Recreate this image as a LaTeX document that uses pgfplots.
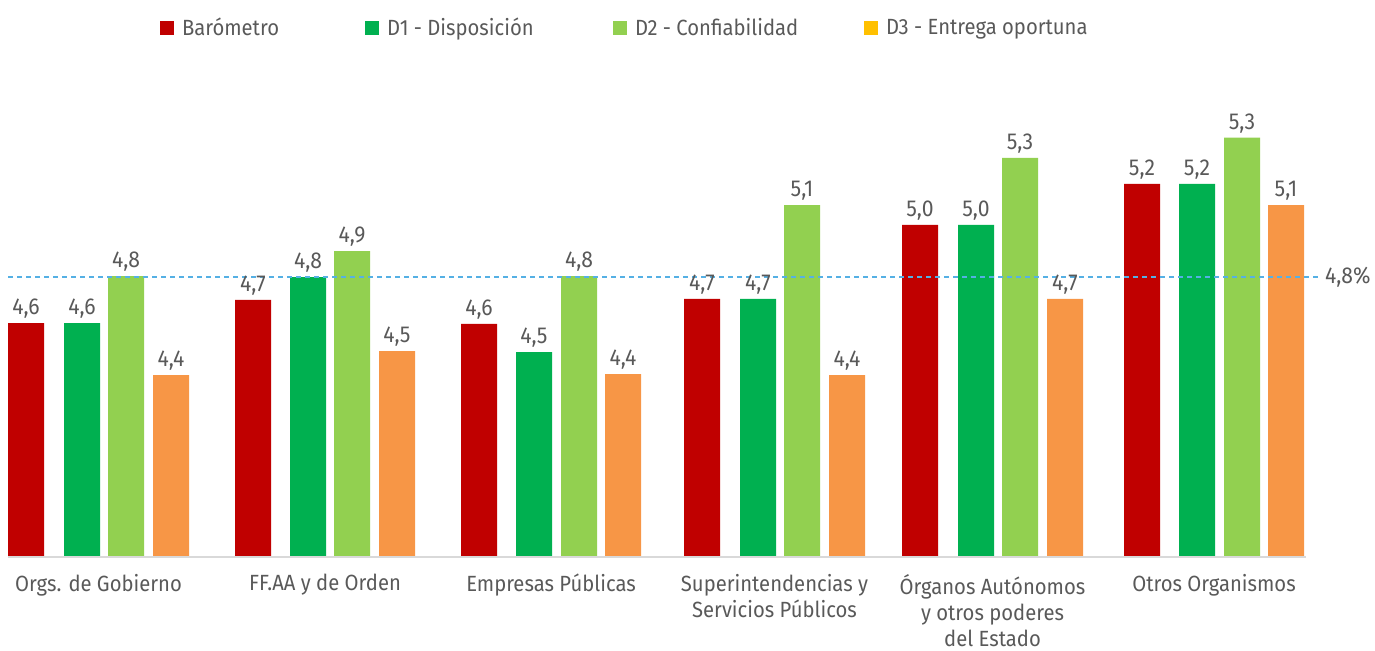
\documentclass[border=0pt]{standalone}
\usepackage{fontspec}
\setmainfont{Fira Sans}[FakeStretch=0.92]
\usepackage{pgfplots}
\pgfplotsset{compat=1.18}
\usepackage{pgfplotstable}
\definecolor{cred}{HTML}{C00000}
\definecolor{cgreen}{HTML}{00B050}
\definecolor{clgreen}{HTML}{92D050}
\definecolor{corange}{HTML}{F79646}
\definecolor{cyellow}{HTML}{FFC000}
\definecolor{txtgray}{HTML}{595959}
\definecolor{axgray}{HTML}{D9D9D9}
\definecolor{cblue}{HTML}{55B0E4}

\pgfplotstableread{
x v
26 4.619
253 4.710
479 4.616
702 4.714
920 5.005
1142 5.166
}\barom
\pgfplotstableread{
x v
82 4.619
308 4.800
534 4.505
758 4.714
976 5.005
1197 5.166
}\dA
\pgfplotstableread{
x v
126 4.804
352 4.902
579 4.804
802 5.083
1020 5.268
1242 5.348
}\dB
\pgfplotstableread{
x v
171 4.415
397 4.509
623 4.419
847 4.415
1065 4.714
1286 5.083
}\dC
\pgfplotstableread{
x v
8 4.8
1318 4.8
}\avgline

\pgfplotsset{
  mybar/.style={ybar, bar width=36, bar shift=0pt, draw=none, fill=#1, forget plot,
    point meta=explicit,
    nodes near coords={\pgfmathprintnumber[fixed,fixed zerofill,precision=1,use comma,assume math mode=true]{\pgfplotspointmeta}},
    every node near coord/.append style={inner sep=2pt, text=txtgray, font=\fontsize{11.5}{13}\selectfont}},
}

\begin{document}
\begin{tikzpicture}
\begin{axis}[
  at={(0pt,46.5pt)}, anchor=south west,
  scale only axis, width=687.5pt, height=229.05pt,
  xmin=0, xmax=1375, ymin=0, ymax=1.8,
  clip=false,
  axis line style={draw=none},
  major tick length=0pt,
  ytick=\empty,
  xtick={98.5,325,551,774.5,992.5,1214},
  xticklabels={Orgs. de Gobierno, FF.AA y de Orden, Empresas Públicas, {Superintendencias y\\Servicios Públicos}, {Órganos Autónomos\\y otros poderes\\del Estado}, Otros Organismos},
  xticklabel style={align=center, text=txtgray, font=\fontsize{11}{13}\selectfont, yshift=-5pt},
  legend columns=4,
  legend image code/.code={\fill[#1] (0pt,-3.5pt) rectangle (7pt,3.5pt);},
  legend style={at={(axis description cs:0.11636,1.1548)}, anchor=west, draw=none, fill=none,
    inner sep=0pt, outer sep=0pt, column sep=0pt,
    /tikz/every odd column/.append style={column sep=4pt},
    nodes={inner sep=0pt, text=txtgray, font=\fontsize{11}{13}\selectfont}},
]
\addlegendimage{fill=cred, draw=none}
\addlegendentry{\makebox[91.5pt][l]{Barómetro}}
\addlegendimage{fill=cgreen, draw=none}
\addlegendentry{\makebox[113pt][l]{D1 - Disposición}}
\addlegendimage{fill=clgreen, draw=none}
\addlegendentry{\makebox[114.5pt][l]{D2 - Confiabilidad}}
\addlegendimage{fill=cyellow, draw=none}
\addlegendentry{D3 - Entrega oportuna}

\addplot[mybar=cred] table[x=x, y expr=\thisrow{v}-3.7, meta=v] {\barom};
\addplot[mybar=cgreen] table[x=x, y expr=\thisrow{v}-3.7, meta=v] {\dA};
\addplot[mybar=clgreen] table[x=x, y expr=\thisrow{v}-3.7, meta=v] {\dB};
\addplot[mybar=corange] table[x=x, y expr=\thisrow{v}-3.7, meta=v] {\dC};

\addplot[forget plot, draw=axgray, line width=1.2pt] coordinates {(8,0) (1306,0)};
\addplot[forget plot, draw=cblue, line width=1.1pt, dash pattern=on 2.5pt off 2pt]
  table[x=x, y expr=\thisrow{v}-3.7] {\avgline}
  node[pos=1, anchor=west, inner sep=3pt, text=txtgray, font=\fontsize{11.5}{13}\selectfont] {4,8\%};
\end{axis}
\pgfresetboundingbox
\path[use as bounding box] (0,0) rectangle (687.5pt,325pt);
\end{tikzpicture}
\end{document}
